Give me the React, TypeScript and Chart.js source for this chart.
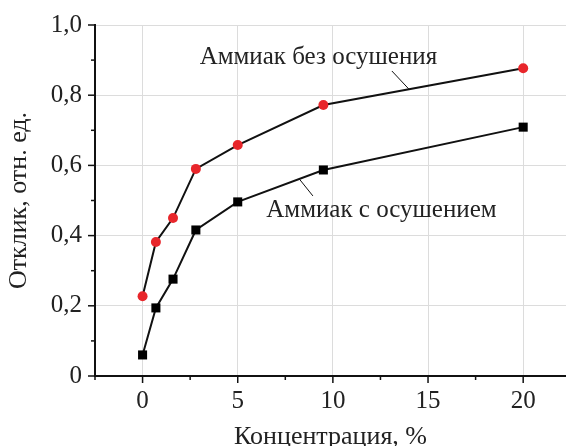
import React, { useEffect, useRef } from 'react';
import { Chart, registerables } from 'chart.js';

Chart.register(...registerables);

// ---- data ----
const concentration = [0, 0.7, 1.6, 2.8, 5, 9.5, 20];
const responseNoDrying = [0.227, 0.382, 0.45, 0.59, 0.658, 0.772, 0.877];
const responseDrying = [0.06, 0.194, 0.276, 0.416, 0.496, 0.587, 0.709];
const seriesNames = ['Аммиак без осушения', 'Аммиак с осушением'];
const xTickLabels = ['0', '5', '10', '15', '20'];
const yTickLabels = ['0', '0,2', '0,4', '0,6', '0,8', '1,0'];
const xTickValues = [-2.5, 0, 2.5, 5, 7.5, 10, 12.5, 15, 17.5, 20];
const xTitle = 'Концентрация, %';
const yTitle = 'Отклик, отн. ед.';

// annotation placement (data coordinates)
const labelAnchors = [
  { x: 3.0, y: 0.909, from: [13.1, 0.869], to: [14.0, 0.817] },
  { x: 6.5, y: 0.473, from: [8.24, 0.561], to: [8.95, 0.513] },
];

const FONT = 'Liberation Serif';
const TEXT = '#222';
const RED = '#e8262b';

const isMult = (v: number, s: number) => Math.abs(v / s - Math.round(v / s)) < 1e-6;

const decorPlugin = {
  id: 'decor',
  afterDraw(chart: any) {
    const { ctx, chartArea, scales } = chart;
    const xs = scales.x;
    const ys = scales.y;
    ctx.save();
    ctx.strokeStyle = '#111';
    ctx.lineWidth = 1.5;
    xs.ticks.forEach((t: any) => {
      const px = xs.getPixelForValue(t.value);
      const len = isMult(t.value, 5) ? 7 : 4;
      ctx.beginPath();
      ctx.moveTo(px, chartArea.bottom);
      ctx.lineTo(px, chartArea.bottom + len);
      ctx.stroke();
    });
    ys.ticks.forEach((t: any) => {
      const py = ys.getPixelForValue(t.value);
      const len = isMult(t.value, 0.2) ? 7 : 4;
      ctx.beginPath();
      ctx.moveTo(chartArea.left, py);
      ctx.lineTo(chartArea.left - len, py);
      ctx.stroke();
    });
    // annotations
    ctx.fillStyle = TEXT;
    ctx.font = `25px "${FONT}"`;
    ctx.textAlign = 'left';
    ctx.textBaseline = 'middle';
    ctx.lineWidth = 1;
    ctx.strokeStyle = '#111';
    labelAnchors.forEach((a, i) => {
      ctx.fillText(seriesNames[i], xs.getPixelForValue(a.x), ys.getPixelForValue(a.y));
      ctx.beginPath();
      ctx.moveTo(xs.getPixelForValue(a.from[0]), ys.getPixelForValue(a.from[1]));
      ctx.lineTo(xs.getPixelForValue(a.to[0]), ys.getPixelForValue(a.to[1]));
      ctx.stroke();
    });
    ctx.restore();
  },
};

export default function App() {
  const ref = useRef<HTMLCanvasElement>(null);
  useEffect(() => {
    const chart = new Chart(ref.current!, {
      type: 'scatter',
      data: {
        datasets: [
          {
            label: seriesNames[0],
            data: concentration.map((c, i) => ({ x: c, y: responseNoDrying[i] })),
            showLine: true,
            borderColor: '#111',
            borderWidth: 2,
            pointStyle: 'circle',
            pointRadius: 5,
            pointBackgroundColor: RED,
            pointBorderColor: RED,
            pointBorderWidth: 0,
          },
          {
            label: seriesNames[1],
            data: concentration.map((c, i) => ({ x: c, y: responseDrying[i] })),
            showLine: true,
            borderColor: '#111',
            borderWidth: 2,
            pointStyle: 'rect',
            pointRadius: 6.4,
            pointBackgroundColor: '#000',
            pointBorderColor: '#000',
            pointBorderWidth: 0,
          },
        ],
      },
      options: {
        responsive: false,
        animation: false,
        devicePixelRatio: 1,
        layout: { autoPadding: false, padding: { top: 25, left: 0, right: 0, bottom: 0 } },
        plugins: { legend: { display: false }, tooltip: { enabled: false } },
        scales: {
          x: {
            type: 'linear',
            min: -2.5,
            max: 22.25,
            afterBuildTicks: (s: any) => {
              s.ticks = xTickValues.map((v) => ({ value: v }));
            },
            afterFit: (s: any) => {
              s.height = 70;
              s.paddingLeft = 0;
              s.paddingRight = 0;
            },
            ticks: {
              padding: 10,
              color: TEXT,
              font: { family: FONT, size: 25 },
              maxRotation: 0,
              autoSkip: false,
              callback: (v: any) => (isMult(Number(v), 5) && v >= 0 ? xTickLabels[Math.round(Number(v) / 5)] : ''),
            },
            grid: {
              drawTicks: false,
              lineWidth: 1,
              color: (c: any) => (c.tick && isMult(c.tick.value, 5) ? '#dcdcdc' : 'rgba(0,0,0,0)'),
            },
            border: { display: true, color: '#111', width: 2 },
            title: {
              display: true,
              text: xTitle,
              color: TEXT,
              font: { family: FONT, size: 26, lineHeight: 1 },
              padding: { top: 0, bottom: -4.5 },
            },
          },
          y: {
            type: 'linear',
            min: 0,
            max: 1,
            afterFit: (s: any) => {
              s.width = 95;
              s.paddingTop = 0;
              s.paddingBottom = 0;
            },
            ticks: {
              stepSize: 0.1,
              padding: 13,
              color: TEXT,
              font: { family: FONT, size: 25 },
              autoSkip: false,
              callback: (v: any) => (isMult(Number(v), 0.2) ? yTickLabels[Math.round(Number(v) / 0.2)] : ''),
            },
            grid: {
              drawTicks: false,
              lineWidth: 1,
              color: (c: any) => (c.tick && isMult(c.tick.value, 0.2) ? '#dcdcdc' : 'rgba(0,0,0,0)'),
            },
            border: { display: true, color: '#111', width: 2 },
            title: {
              display: true,
              text: yTitle,
              color: TEXT,
              font: { family: FONT, size: 26, lineHeight: 1 },
              padding: { top: 6, bottom: 0 },
            },
          },
        },
      },
      plugins: [decorPlugin],
    } as any);
    return () => chart.destroy();
  }, []);
  return (
    <div style={{ position: 'absolute', left: 0, top: 0, width: 566, height: 446, background: '#fff' }}>
      <canvas ref={ref} width={566} height={446} style={{ display: 'block' }} />
    </div>
  );
}
